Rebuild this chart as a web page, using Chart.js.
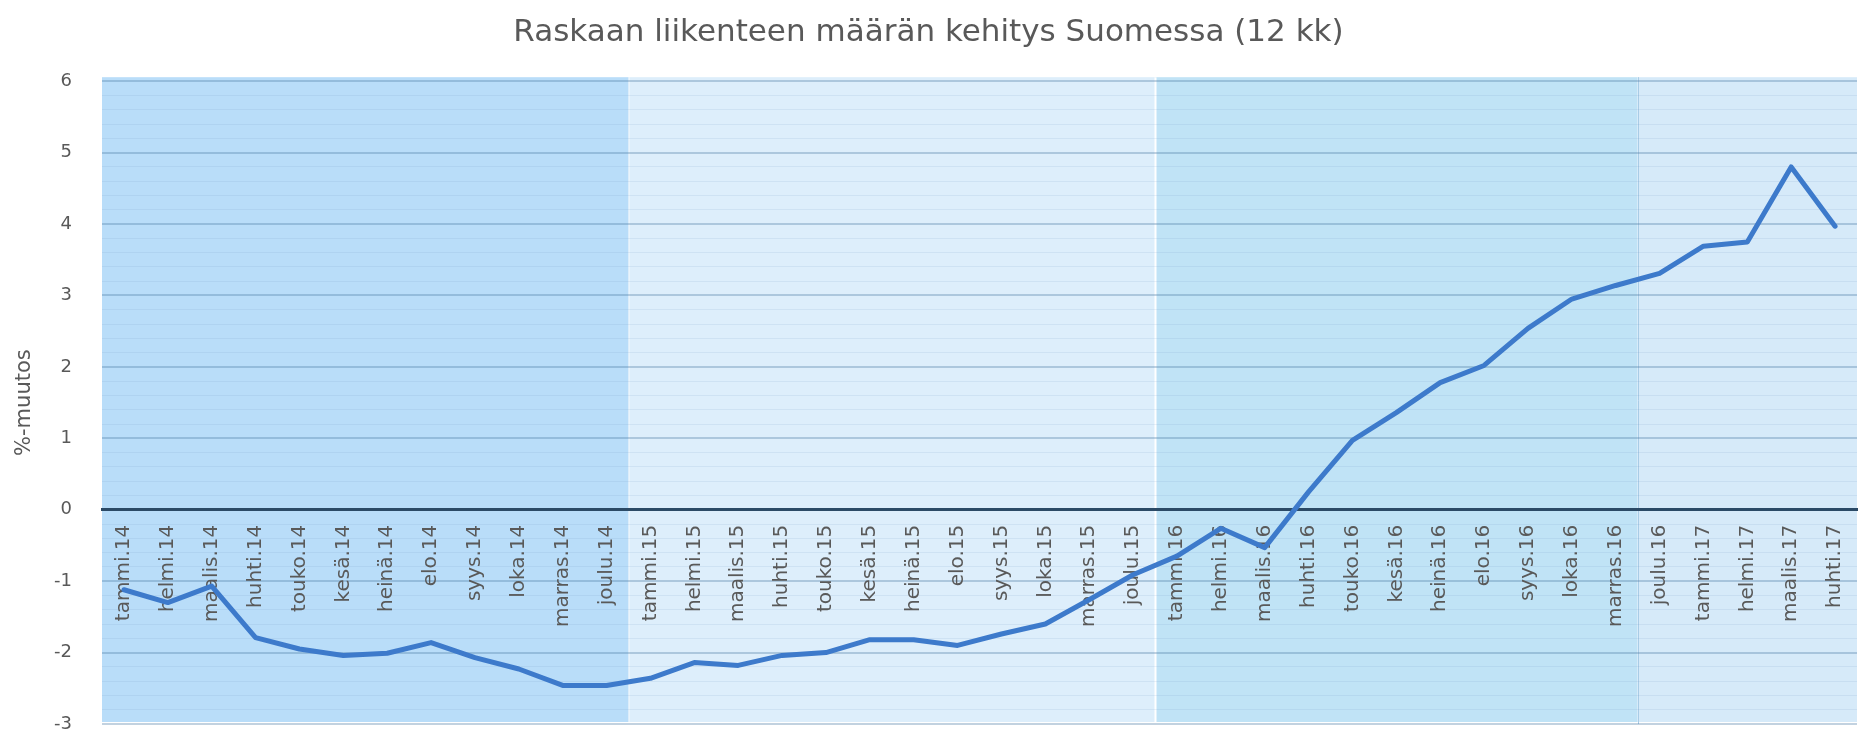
<!DOCTYPE html>
<html lang="fi">
<head>
<meta charset="UTF-8">
<title>Raskaan liikenteen määrän kehitys Suomessa</title>
<style>
  body { margin: 0; background: #ffffff; }
  #wrap { width: 1859px; height: 749px; position: relative; }
</style>
</head>
<body>
<div id="wrap"><canvas id="chart"></canvas></div>
<script src="https://cdn.jsdelivr.net/npm/chart.js@4"></script>
<script>
// data
const months = [
  'tammi.14', 'helmi.14', 'maalis.14', 'huhti.14', 'touko.14', 'kesä.14', 'heinä.14', 'elo.14', 'syys.14', 'loka.14', 'marras.14', 'joulu.14',
  'tammi.15', 'helmi.15', 'maalis.15', 'huhti.15', 'touko.15', 'kesä.15', 'heinä.15', 'elo.15', 'syys.15', 'loka.15', 'marras.15', 'joulu.15',
  'tammi.16', 'helmi.16', 'maalis.16', 'huhti.16', 'touko.16', 'kesä.16', 'heinä.16', 'elo.16', 'syys.16', 'loka.16', 'marras.16', 'joulu.16',
  'tammi.17', 'helmi.17', 'maalis.17', 'huhti.17'
];
const change = [
  -1.12, -1.30, -1.07, -1.79, -1.95, -2.04, -2.01, -1.86, -2.07, -2.23, -2.46, -2.46,
  -2.36, -2.14, -2.18, -2.04, -2.00, -1.82, -1.82, -1.90, -1.74, -1.60, -1.26, -0.91,
  -0.65, -0.26, -0.53, 0.25, 0.97, 1.36, 1.78, 2.02, 2.54, 2.95, 3.14, 3.31,
  3.69, 3.75, 4.80, 3.97
];
const yMin = -3;
const yMax = 6;
// last category index of each shaded block
const bandEnds = [11, 23, 34, 39];

const bandColors = ['#b9ddf9', '#ddeefb', '#c0e3f6', '#d6eaf9'];
const bandEdges = ['rgba(255,255,255,0.35)', '#ffffff', '#a9cce6'];
const grey = '#595959';
const font = 'DejaVu Sans';

const bandPlugin = {
  id: 'bands',
  beforeDraw(chart) {
    const { ctx, chartArea: a, scales: { x } } = chart;
    const edge = i => i < 0 ? a.left : i >= months.length - 1 ? a.right
      : (x.getPixelForValue(i) + x.getPixelForValue(i + 1)) / 2;
    ctx.save();
    let start = -1;
    bandEnds.forEach((end, k) => {
      const x0 = edge(start), x1 = edge(end);
      ctx.fillStyle = bandColors[k];
      ctx.fillRect(x0, a.top - 4, x1 - x0, a.bottom - a.top + 2);
      start = end;
    });
    bandEnds.slice(0, -1).forEach((end, k) => {
      const xe = Math.round(edge(end)) + 0.5;
      ctx.strokeStyle = bandEdges[k];
      ctx.lineWidth = k === 1 ? 2 : 1;
      ctx.beginPath();
      ctx.moveTo(xe, a.top - 4);
      ctx.lineTo(xe, a.bottom);
      ctx.stroke();
    });
    ctx.restore();
  }
};

const isWhole = v => Math.abs(v - Math.round(v)) < 1e-6;

new Chart(document.getElementById('chart'), {
  type: 'line',
  data: {
    labels: months,
    datasets: [{
      data: change,
      borderColor: '#3d7acb',
      borderWidth: 5,
      pointRadius: 0,
      tension: 0,
      borderJoinStyle: 'round',
      borderCapStyle: 'round'
    }]
  },
  options: {
    responsive: true,
    maintainAspectRatio: false,
    animation: false,
    layout: { padding: { top: 14, right: 2, bottom: 25, left: 0 } },
    plugins: {
      legend: { display: false },
      tooltip: { enabled: false },
      title: {
        display: true,
        text: 'Raskaan liikenteen määrän kehitys Suomessa (12 kk)',
        color: grey,
        font: { family: font, size: 31, weight: 'normal' },
        padding: { top: 0, bottom: 30 }
      }
    },
    scales: {
      x: {
        type: 'category',
        offset: true,
        position: { y: 0 },
        afterFit: s => {
          s.paddingLeft = 0;
          s.paddingRight = 0;
        },
        grid: { display: true, color: 'rgba(0,0,0,0)', drawTicks: false },
        border: { display: true, color: '#2b4a66', width: 3 },
        ticks: {
          autoSkip: false,
          minRotation: 90,
          maxRotation: 90,
          padding: 15,
          color: grey,
          font: { family: font, size: 20 }
        }
      },
      y: {
        min: yMin,
        max: yMax,
        border: { display: false },
        afterFit: s => {
          s.width = 102;
          s.paddingTop = 0;
          s.paddingBottom = 0;
        },
        grid: {
          drawTicks: false,
          color: c => isWhole(c.tick.value) ? 'rgba(80,125,165,0.35)' : 'rgba(110,150,190,0.13)',
          lineWidth: c => isWhole(c.tick.value) ? 2 : 1
        },
        ticks: {
          stepSize: 0.2,
          autoSkip: false,
          padding: 30,
          color: grey,
          font: { family: font, size: 18 },
          callback: v => isWhole(v) ? String(Math.round(v)) : ''
        },
        title: {
          display: true,
          text: '%-muutos',
          color: grey,
          font: { family: font, size: 21 },
          padding: { top: 12, bottom: 0 }
        }
      }
    }
  },
  plugins: [bandPlugin]
});
</script>
</body>
</html>
